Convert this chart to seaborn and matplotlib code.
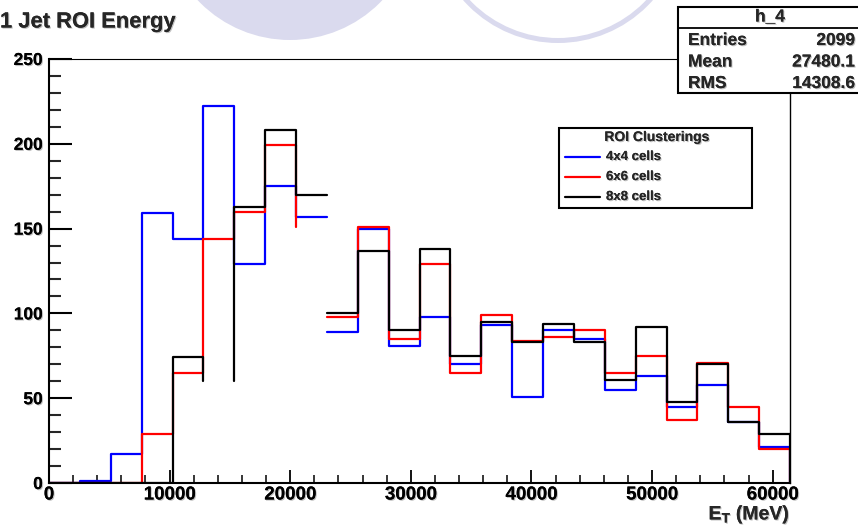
import numpy as np
import pandas as pd
import matplotlib
matplotlib.use("Agg")
import matplotlib.pyplot as plt
import matplotlib.patheffects as pe
from matplotlib.patches import Rectangle, Circle
from matplotlib.lines import Line2D
from matplotlib.ticker import MultipleLocator
import seaborn as sns

# ---- data -------------------------------------------------------------
# 24 bins of 2560 MeV covering 0 - 61440 MeV
bin_edges = np.linspace(0, 61440, 25)

series_names = ["4x4 cells", "6x6 cells", "8x8 cells"]
counts_4x4 = [0, 1, 17, 159, 144, 222, 129, 175, 157, 89, 150, 81,
              98, 70, 93, 51, 90, 85, 55, 63, 45, 58, 36, 21]
counts_6x6 = [0, 0, 0, 29, 65, 144, 160, 199, 151, 98, 151, 85,
              129, 65, 99, 84, 86, 90, 65, 75, 37, 71, 45, 20]
counts_8x8 = [0, 0, 0, 0, 74, 60, 163, 208, 170, 100, 137, 90,
              138, 75, 95, 83, 94, 83, 61, 92, 48, 70, 36, 29]
series_colors = ["#0000ff", "#ff0000", "#000000"]

# bin tops / bin-edge risers that are left unstroked in the outlines
open_tops = {"8x8 cells": [5], "6x6 cells": [8]}
open_risers = [9]

stats_title = "h_4"
stats_labels = ["Entries", "Mean", "RMS"]
stats_values = ["2099", "27480.1", "14308.6"]

title_text = "1 Jet ROI Energy"
legend_title = "ROI Clusterings"
x_label = r"E$_\mathrm{T}$ (MeV)"

# ---- style ------------------------------------------------------------
sns.set_theme(style="white")
plt.rcParams["font.family"] = ["Liberation Sans", "DejaVu Sans"]
plt.rcParams["font.weight"] = "bold"
plt.rcParams["mathtext.fontset"] = "custom"
plt.rcParams["mathtext.rm"] = "Liberation Sans:bold"
plt.rcParams["mathtext.it"] = "Liberation Sans:bold"
plt.rcParams["mathtext.bf"] = "Liberation Sans:bold"

W, H = 858, 530
shadow = [pe.withSimplePatchShadow(offset=(0.8, -0.8), shadow_rgbFace="0.55", alpha=0.55),
          pe.Normal()]


def fx(px):
    return px / W


def fy(py):
    return 1 - py / H


def outline_pieces(counts, skip_tops, skip_risers):
    """Split a histogram outline into polylines, leaving out unstroked parts."""
    pieces = []
    current = [(bin_edges[0], 0.0)]
    for i, v in enumerate(counts):
        x0, x1 = bin_edges[i], bin_edges[i + 1]
        if i in skip_risers:
            if len(current) > 1:
                pieces.append(current)
            current = [(x0, v)]
        else:
            current.append((x0, v))
        if i in skip_tops:
            if len(current) > 1:
                pieces.append(current)
            current = [(x1, v)]
        else:
            current.append((x1, v))
    current.append((bin_edges[-1], 0.0))
    pieces.append(current)
    return pieces


rows = []
for name, counts in zip(series_names, [counts_4x4, counts_6x6, counts_8x8]):
    for k, piece in enumerate(outline_pieces(counts, open_tops.get(name, []), open_risers)):
        for j, (x, y) in enumerate(piece):
            rows.append({"series": name, "piece": f"{name}-{k:02d}", "order": j,
                         "E_T": x, "count": y})
df = pd.DataFrame(rows)

fig = plt.figure(figsize=(W / 100, H / 100), dpi=100)
fig.patch.set_facecolor("white")

# faint decorative circles along the top edge
fig.add_artist(Circle((2.90, 6.17), 1.27, transform=fig.dpi_scale_trans,
                      facecolor="#dadaee", edgecolor="none", zorder=0))
fig.add_artist(Circle((5.58, 6.135), 1.24, transform=fig.dpi_scale_trans,
                      facecolor="none", edgecolor="#dadaee", linewidth=3.6, zorder=0))

ax = fig.add_axes([fx(49), fy(483), fx(790) - fx(49), fy(59) - fy(483)])
ax.set_facecolor("white")

sns.lineplot(data=df, x="E_T", y="count", hue="series", hue_order=series_names,
             palette=dict(zip(series_names, series_colors)), units="piece",
             estimator=None, sort=False, linewidth=1.6, legend=False, ax=ax)

ax.set_xlim(bin_edges[0], bin_edges[-1])
ax.set_ylim(0, 250)
ax.set_xlabel("")
ax.set_ylabel("")

ax.xaxis.set_major_locator(MultipleLocator(10000))
ax.xaxis.set_minor_locator(MultipleLocator(2000))
ax.yaxis.set_major_locator(MultipleLocator(50))
ax.yaxis.set_minor_locator(MultipleLocator(10))
ax.tick_params(axis="x", which="major", direction="in", length=9.4, width=1.3,
               bottom=True, top=False, pad=2.5, labelsize=13.5, colors="black")
ax.tick_params(axis="x", which="minor", direction="in", length=5.8, width=1.3,
               bottom=True, top=False)
ax.tick_params(axis="y", which="major", direction="in", length=16.6, width=1.5,
               left=True, right=False, pad=4.5, labelsize=12.5, colors="black")
ax.tick_params(axis="y", which="minor", direction="in", length=8.6, width=1.5,
               left=True, right=False)

for side, lw in [("left", 1.5), ("bottom", 1.5), ("top", 0.8), ("right", 1.0)]:
    ax.spines[side].set_visible(True)
    ax.spines[side].set_color("black")
    ax.spines[side].set_linewidth(lw)

for lab in ax.get_xticklabels() + ax.get_yticklabels():
    lab.set_fontweight("bold")
    lab.set_path_effects(shadow)

# title and axis label
fig.text(fx(0), fy(22), title_text, fontsize=15.8, fontweight="bold",
         ha="left", va="center", path_effects=shadow)
fig.text(fx(790), fy(515), x_label, fontsize=14, fontweight="bold",
         ha="right", va="center", path_effects=shadow)

# statistics box
fig.add_artist(Rectangle((fx(678), fy(93)), fx(864) - fx(678), fy(7) - fy(93),
                         transform=fig.transFigure, facecolor="white",
                         edgecolor="black", linewidth=1.5, zorder=5))
fig.add_artist(Line2D([fx(678), fx(864)], [fy(28), fy(28)], transform=fig.transFigure,
                      color="black", linewidth=1.3, zorder=6))
fig.text(fx(770), fy(17), stats_title, fontsize=12.5, fontweight="bold",
         ha="center", va="center", zorder=7, path_effects=shadow)
for i, (lab, val) in enumerate(zip(stats_labels, stats_values)):
    yy = fy(40.5 + 21.5 * i)
    fig.text(fx(688), yy, lab, fontsize=12.5, fontweight="bold",
             ha="left", va="center", zorder=7, path_effects=shadow)
    fig.text(fx(855), yy, val, fontsize=12.5, fontweight="bold",
             ha="right", va="center", zorder=7, path_effects=shadow)

# legend box
fig.add_artist(Rectangle((fx(559), fy(208)), fx(752) - fx(559), fy(128) - fy(208),
                         transform=fig.transFigure, facecolor="white",
                         edgecolor="black", linewidth=1.5, zorder=5))
fig.text(fx(657), fy(137), legend_title, fontsize=10, fontweight="bold",
         ha="center", va="center", zorder=7, path_effects=shadow)
for i, (name, col) in enumerate(zip(series_names, series_colors)):
    yy = fy(157 + 20 * i)
    fig.add_artist(Line2D([fx(565), fx(600)], [yy, yy], transform=fig.transFigure,
                          color=col, linewidth=1.6, zorder=6))
    fig.text(fx(606), yy, name, fontsize=9.5, fontweight="bold",
             ha="left", va="center", zorder=7, path_effects=shadow)

fig.savefig("out.png", dpi=100, facecolor="white")
